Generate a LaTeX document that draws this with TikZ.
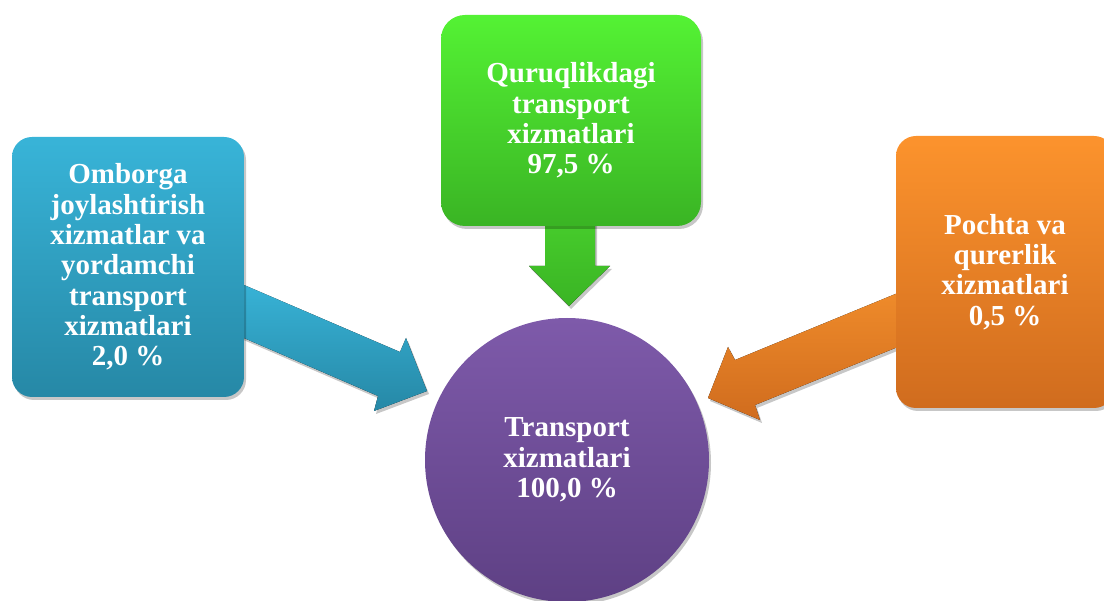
\documentclass[tikz,border=0pt]{standalone}
\usepackage{fontspec}
\setmainfont{Liberation Serif}
\usetikzlibrary{shadows}
\definecolor{blueT}{RGB}{56,180,216}
\definecolor{blueB}{RGB}{38,136,166}
\definecolor{greenT}{RGB}{84,242,52}
\definecolor{greenB}{RGB}{58,180,36}
\definecolor{orangeT}{RGB}{252,147,45}
\definecolor{orangeB}{RGB}{208,108,30}
\definecolor{purpT}{RGB}{126,90,170}
\definecolor{purpB}{RGB}{94,64,132}
\begin{document}
\begin{tikzpicture}[x=1pt,y=-1pt,
  lbl/.style={text=white, font=\fontsize{29}{30.3}\selectfont\bfseries, align=center, inner sep=0pt},
  sh/.style={drop shadow={shadow xshift=2pt, shadow yshift=-3pt, opacity=0.22, fill=black}},
  boxnode/.style={lbl, rounded corners=20pt, sh}
]
\useasboundingbox (0,0) rectangle (1104,601);
\clip (0,0) rectangle (1104,601);

% blue arrow
\coordinate (b1) at (230,279);
\coordinate (b2) at (400,352);
\coordinate (b3) at (406,338);
\coordinate (btip) at (427,391);
\coordinate (b5) at (374,411);
\coordinate (b6) at (378,396);
\coordinate (b7) at (230,332);
\fill[top color=blueT, bottom color=blueB, sh] (b1) -- (b2) -- (b3) -- (btip) -- (b5) -- (b6) -- (b7) -- cycle;

% orange arrow
\coordinate (o1) at (910,288);
\coordinate (o2) at (735,360);
\coordinate (o3) at (728,347);
\coordinate (otip) at (708,398);
\coordinate (o5) at (760,420);
\coordinate (o6) at (755,405);
\coordinate (o7) at (910,342);
\fill[top color=orangeT!95!black, bottom color=orangeB, sh] (o1) -- (o2) -- (o3) -- (otip) -- (o5) -- (o6) -- (o7) -- cycle;

% green arrow
\coordinate (g1) at (545,215);
\coordinate (g2) at (545,266);
\coordinate (g3) at (529,266);
\coordinate (gtip) at (569,306);
\coordinate (g5) at (610,266);
\coordinate (g6) at (595,266);
\coordinate (g7) at (595,215);
\fill[top color=greenT!85!black, bottom color=greenB, sh] (g1) -- (g2) -- (g3) -- (gtip) -- (g5) -- (g6) -- (g7) -- cycle;

% boxes
\node[boxnode, top color=blueT, bottom color=blueB, minimum width=232pt, minimum height=260pt] (omb) at (128,267)
  {Omborga\\joylashtirish\\xizmatlar va\\yordamchi\\transport\\xizmatlari\\2,0 \%};
\node[boxnode, top color=greenT, bottom color=greenB, minimum width=260pt, minimum height=211pt, rounded corners=24pt] (qur) at (571,120.5)
  {Quruqlikdagi\\transport\\xizmatlari\\97,5 \%};
\node[boxnode, top color=orangeT, bottom color=orangeB, minimum width=218pt, minimum height=272pt] (poc) at (1005,272)
  {Pochta va\\qurerlik\\xizmatlari\\0,5 \%};
\node[lbl, circle, sh, top color=purpT, bottom color=purpB, minimum size=284pt] (tr) at (567,460)
  {Transport\\xizmatlari\\100,0 \%};
\end{tikzpicture}
\end{document}
